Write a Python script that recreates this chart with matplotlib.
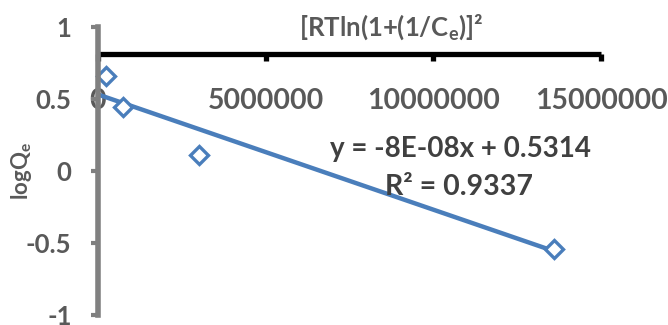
import matplotlib
matplotlib.use("Agg")
import matplotlib.pyplot as plt
import numpy as np

# Dubinin-Radushkevich style plot: logQe against the squared Polanyi potential
potential_sq = [240000, 750000, 3020000, 13600000]
log_qe = [0.66, 0.444, 0.111, -0.54]

# Linear trendline as reported on the chart
slope = -8e-08
intercept = 0.5314
r_squared = 0.9337

x_ticks = [0, 5000000, 10000000, 15000000]
y_ticks = [-1, -0.5, 0, 0.5, 1]

FONT = "Lato"
TEXT_GRAY = "#595959"
EQ_GRAY = "#404040"
BLUE = "#4a7ebb"

fig = plt.figure(figsize=(6.68, 3.25), dpi=100)
ax = fig.add_axes([98 / 668, 1 - 315 / 325, (601 - 98) / 668, (315 - 27) / 325])

ax.set_xlim(0, 15000000)
ax.set_ylim(-1, 1)

# Trendline across the data range
xs = np.array([0, max(potential_sq)])
ax.plot(xs, slope * xs + intercept, color=BLUE, lw=3.2, solid_capstyle="butt", zorder=3)

# Observed points as open diamonds
ax.plot(potential_sq, log_qe, linestyle="none", marker="D", ms=9,
        markerfacecolor="white", markeredgecolor=BLUE, markeredgewidth=2.4,
        zorder=4, clip_on=False)

# Spines: grey vertical axis at x=0, black horizontal axis crossing near the top
for side in ("top", "right"):
    ax.spines[side].set_visible(False)
ax.spines["left"].set_color("#808080")
ax.spines["left"].set_linewidth(4.0)
ax.spines["left"].set_zorder(5)
ax.spines["bottom"].set_position(("data", 0.81))
ax.spines["bottom"].set_color("black")
ax.spines["bottom"].set_linewidth(3.8)
ax.spines["bottom"].set_capstyle("butt")

ax.set_xticks(x_ticks)
ax.set_xticklabels([str(v) for v in x_ticks])
ax.set_yticks(y_ticks)
ax.set_yticklabels([f"{v:g}" for v in y_ticks])

ax.tick_params(axis="x", direction="out", length=5, width=3.8, color="black",
               pad=19, labelsize=20.5, labelcolor=TEXT_GRAY)
ax.tick_params(axis="y", direction="out", length=5, width=3.0, color="#808080",
               pad=14, labelsize=18.5, labelcolor=TEXT_GRAY)
for lab in ax.get_xticklabels() + ax.get_yticklabels():
    lab.set_fontfamily(FONT)
    lab.set_fontweight("bold")

# Axis titles
fig.text(391 / 668, 1 - 27 / 325, r"[RTln(1+(1/C$_\mathregular{e}$)]²",
         ha="center", va="center", fontsize=18.5, color=TEXT_GRAY,
         family=FONT, fontweight="bold")
fig.text(22 / 668, 1 - 171 / 325, r"logQ$_\mathregular{e}$", rotation=90,
         ha="center", va="center", fontsize=16, color=TEXT_GRAY,
         family=FONT, fontweight="bold")

# Trendline equation and fit quality
fig.text(461 / 668, 1 - 149 / 325, f"y = {slope:.0E}x + {intercept}",
         ha="center", va="center", fontsize=20, color=EQ_GRAY,
         family=FONT, fontweight="bold")
fig.text(459 / 668, 1 - 187 / 325, f"R² = {r_squared}",
         ha="center", va="center", fontsize=20.5, color=EQ_GRAY,
         family=FONT, fontweight="bold")

fig.savefig("out.png", dpi=100)
